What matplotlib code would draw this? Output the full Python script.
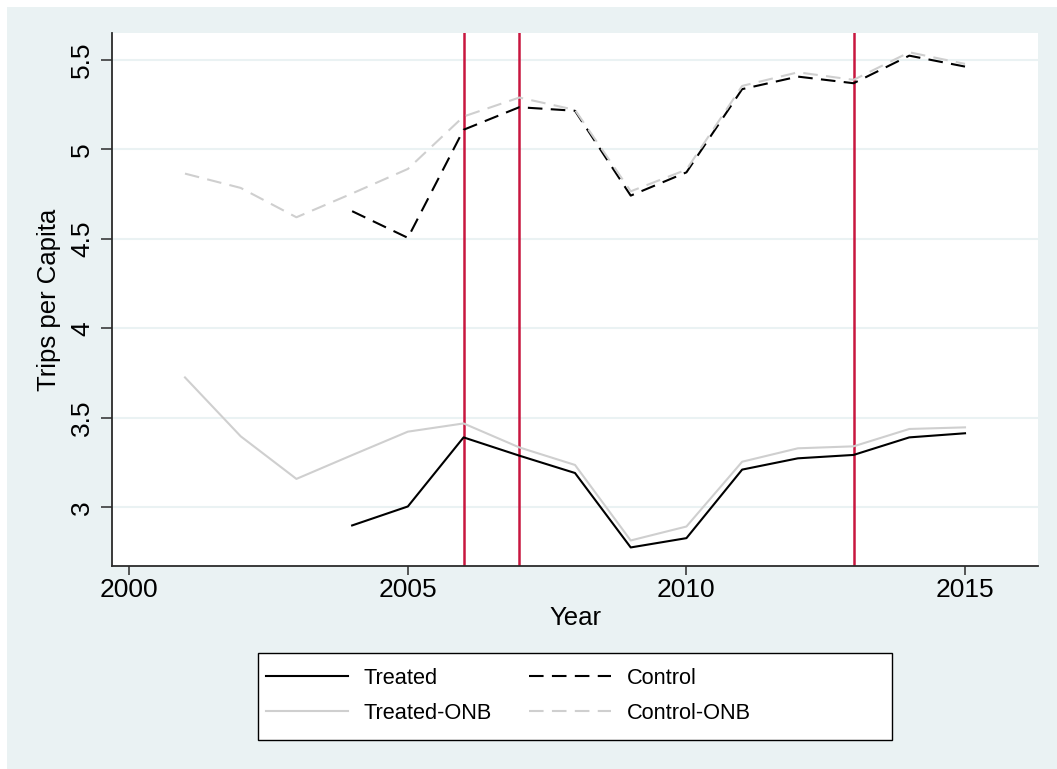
import numpy as np
import matplotlib
matplotlib.use("Agg")
import matplotlib.pyplot as plt
from matplotlib.patches import Rectangle

plt.rcParams['font.family'] = ['Liberation Sans', 'DejaVu Sans']

# trips per capita by year
years = [2001, 2002, 2003, 2004, 2005, 2006, 2007, 2008,
         2009, 2010, 2011, 2012, 2013, 2014, 2015]
nan = np.nan
treated = [nan, nan, nan, 2.899, 3.005, 3.391, 3.289, 3.192,
           2.776, 2.828, 3.211, 3.274, 3.293, 3.391, 3.414]
control = [nan, nan, nan, 4.655, 4.506, 5.110, 5.236, 5.216,
           4.742, 4.872, 5.337, 5.407, 5.370, 5.524, 5.463]
treated_onb = [3.726, 3.397, 3.159, 3.292, 3.423, 3.469, 3.335, 3.237,
               2.815, 2.893, 3.255, 3.330, 3.341, 3.438, 3.447]
control_onb = [4.865, 4.785, 4.621, 4.754, 4.891, 5.184, 5.290, 5.221,
               4.766, 4.887, 5.355, 5.431, 5.389, 5.543, 5.478]
event_years = [2006, 2007, 2013]

bg = '#eaf2f3'
W, H = 1057, 769
fig = plt.figure(figsize=(W / 100, H / 100), dpi=100)
fig.patch.set_facecolor('white')
fig.patches.append(Rectangle((7 / W, 0), 1, 1 - 7 / H, transform=fig.transFigure,
                             facecolor=bg, edgecolor='none', zorder=-5))

ax = fig.add_axes([112 / W, 1 - 565.7 / H, 926 / W, 532.4 / H])
ax.set_facecolor('white')

for yv in [3, 3.5, 4, 4.5, 5, 5.5]:
    ax.axhline(yv, color=bg, lw=1.5, zorder=0)
for ev in event_years:
    ax.axvline(ev, color='#c8163f', lw=1.8, zorder=1)

dash = (0, (7, 4))
l1, = ax.plot(years, treated, color='black', lw=1.5, label='Treated', zorder=2)
l2, = ax.plot(years, control, color='black', lw=1.5, ls=dash, label='Control', zorder=2)
l3, = ax.plot(years, treated_onb, color='#cfcfcf', lw=1.5, label='Treated-ONB', zorder=2)
l4, = ax.plot(years, control_onb, color='#cfcfcf', lw=1.5, ls=dash, label='Control-ONB', zorder=2)

ax.set_xlim(1999.69, 2016.31)
ax.set_ylim(2.674, 5.649)
ax.set_xticks([2000, 2005, 2010, 2015])
ax.set_yticks([3, 3.5, 4, 4.5, 5, 5.5])
ax.set_yticklabels(['3', '3.5', '4', '4.5', '5', '5.5'])

for s in ['top', 'right']:
    ax.spines[s].set_visible(False)
for s in ['left', 'bottom']:
    ax.spines[s].set_linewidth(1.3)
    ax.spines[s].set_color('#2b2b2b')

ax.tick_params(axis='y', length=8, width=1.1, color='#2b2b2b', labelsize=19,
               labelrotation=90, pad=5)
ax.tick_params(axis='x', length=6.7, width=1.1, color='#2b2b2b', labelsize=19, pad=2)
for lab in ax.get_yticklabels():
    lab.set_va('center')

ax.set_ylabel('Trips per Capita', fontsize=18.5)
ax.yaxis.set_label_coords(-0.055, 0.5)
ax.set_xlabel('Year', fontsize=18.5, va='top')
ax.xaxis.set_label_coords(0.5, -0.0765)

# legend box drawn separately so it keeps the wide frame
fig.patches.append(Rectangle((258 / W, 1 - 740 / H), 634 / W, 87 / H,
                             transform=fig.transFigure, facecolor='white',
                             edgecolor='black', lw=1.0, zorder=3))
leg = fig.legend([l1, l3, l2, l4], ['Treated', 'Treated-ONB', 'Control', 'Control-ONB'],
                 loc='center left', bbox_to_anchor=(266 / W, 1 - 696 / H),
                 ncol=2, fontsize=15.7, frameon=False,
                 handlelength=3.75, handletextpad=0.73, columnspacing=1.7,
                 labelspacing=0.65, borderpad=0, borderaxespad=0)
leg.set_zorder(4)

fig.savefig('out.png', dpi=100)
